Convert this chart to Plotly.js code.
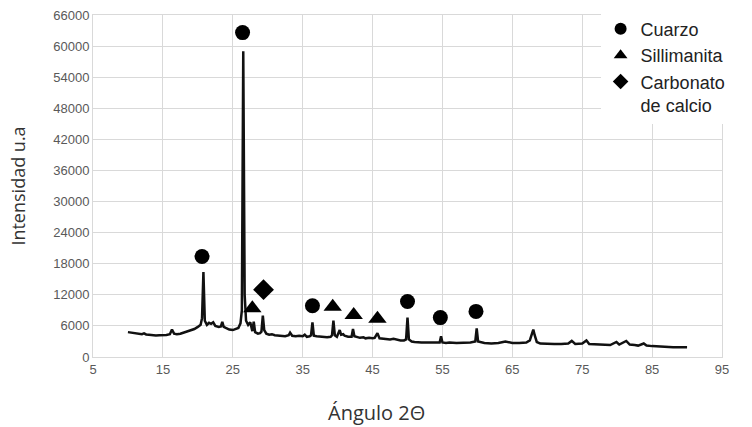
<!DOCTYPE html>
<html>
<head>
<meta charset="utf-8">
<script src="https://cdn.plot.ly/plotly-3.0.1.min.js"></script>
<style>html,body{margin:0;padding:0;background:#fff;}#chart{width:752px;height:427px;}</style>
</head>
<body>
<div id="chart"></div>
<script>
// Diffractogram (angle 2θ vs intensity)
const angle = [10.0,10.5,11.0,11.5,12.0,12.3,12.6,13.0,13.5,14.0,14.5,15.0,15.5,16.0,16.3,16.6,17.0,17.5,18.0,18.5,19.0,19.5,20.0,20.4,20.6,20.8,21.0,21.3,21.6,21.9,22.2,22.5,23.0,23.3,23.5,23.7,24.0,24.5,25.0,25.4,25.8,26.1,26.3,26.5,26.7,26.9,27.2,27.5,27.8,28.0,28.2,28.6,28.9,29.1,29.3,29.5,29.8,30.2,30.6,31.0,31.5,32.0,32.5,33.0,33.2,33.5,34.0,34.5,35.0,35.3,35.6,36.0,36.2,36.4,36.6,37.0,37.5,38.0,38.5,39.0,39.2,39.4,39.6,39.9,40.1,40.3,40.5,40.8,41.0,41.5,42.0,42.2,42.4,42.8,43.2,43.7,44.0,44.5,45.0,45.3,45.7,46.0,46.5,47.0,47.5,48.0,48.5,49.0,49.5,49.8,50.0,50.2,50.6,51.0,52.0,53.0,54.0,54.6,54.8,55.0,55.5,56.0,57.0,58.0,59.0,59.7,59.9,60.1,60.5,61.0,62.0,63.0,64.0,64.5,65.0,66.0,67.0,67.5,67.8,68.0,68.2,68.5,69.0,70.0,71.0,72.0,73.0,73.5,74.0,75.0,75.6,76.0,77.0,78.0,79.0,79.9,80.3,81.3,81.8,82.5,83.0,83.8,84.2,85.0,86.0,87.0,88.0,89.0,90.0];
const intensity = [4800,4700,4600,4500,4400,4550,4350,4300,4200,4150,4200,4200,4250,4400,5300,4500,4400,4500,4700,4900,5100,5400,5800,6200,7500,16400,7000,6200,6600,6400,6700,6000,5800,5900,6800,5800,5600,5300,5200,5400,5600,6500,9000,59000,12000,7000,6200,6700,5000,6800,4800,4500,4600,4900,8000,5200,4500,4300,4400,4200,4100,4000,4000,4200,4700,4100,4000,4100,4000,4300,3900,4000,4200,6700,4100,4000,3900,3800,3800,3900,4200,7000,4200,3900,4700,5200,4300,4400,4100,3900,3900,5400,4000,3800,3700,3800,3600,3700,3600,3700,4600,3600,3500,3500,3400,3500,3300,3200,3200,3400,7600,3400,3000,2900,2800,2800,2700,2800,4000,2800,2700,2800,2700,2700,2800,3000,5500,3000,2800,2700,2600,2700,3000,2800,2700,2700,2800,3200,4500,5300,4200,2900,2600,2500,2500,2500,2600,3100,2500,2600,3200,2500,2400,2400,2300,2900,2400,3100,2400,2300,2200,2600,2200,2100,2000,2000,1900,1900,1900];

// Phase markers
const quartzX = [20.6, 26.4, 36.4, 50.0, 54.7, 59.8];
const quartzY = [19400, 62600, 9900, 10700, 7600, 8800];
const sillX = [27.8, 39.3, 42.3, 45.7];
const sillY = [9400, 9700, 8100, 7400];
const calcX = [29.4];
const calcY = [13000];

const names = ["Cuarzo", "Sillimanita", "Carbonato<br>de calcio"];
const xTicks = [5,15,25,35,45,55,65,75,85,95];
const yTicks = [0,6000,12000,18000,24000,30000,36000,42000,48000,54000,60000,66000];
const xTitle = 'Ángulo 2Θ';
const yTitle = 'Intensidad u.a';

const traces = [
  {x: angle, y: intensity, type: 'scatter', mode: 'lines', line: {color: '#111', width: 2.5}, showlegend: false, hoverinfo: 'skip'},
  {x: quartzX, y: quartzY, type: 'scatter', mode: 'markers', name: names[0], marker: {symbol: 'circle', size: 15, color: '#000'}},
  {x: sillX, y: sillY, type: 'scatter', mode: 'markers', name: names[1], marker: {symbol: 'triangle-up', size: 16, color: '#000'}},
  {x: calcX, y: calcY, type: 'scatter', mode: 'markers', name: names[2], marker: {symbol: 'diamond', size: 16, color: '#000'}}
];

const layout = {
  width: 752, height: 427,
  margin: {l: 93, r: 30, t: 14, b: 70},
  paper_bgcolor: '#fff', plot_bgcolor: '#fff',
  font: {family: 'Liberation Sans, Arial, sans-serif', color: '#595959'},
  xaxis: {
    range: [5, 95], tickvals: xTicks, ticktext: xTicks.map(String),
    showgrid: true, gridcolor: '#d9d9d9', gridwidth: 1, zeroline: false,
    showline: true, mirror: true, linecolor: '#d9d9d9', linewidth: 1,
    ticks: '', tickfont: {size: 13, color: '#595959'}
  },
  yaxis: {
    range: [0, 66000], tickvals: yTicks, ticktext: yTicks.map(String),
    showgrid: true, gridcolor: '#d9d9d9', gridwidth: 1, zeroline: false,
    showline: true, mirror: true, linecolor: '#d9d9d9', linewidth: 1,
    ticks: '', tickfont: {size: 13, color: '#595959'},
    title: {text: yTitle, font: {size: 18, color: '#333', family: 'Open Sans, Liberation Sans, sans-serif'}, standoff: 22}
  },
  annotations: [
    {text: xTitle, xref: 'paper', yref: 'paper', x: 0.4515, y: -0.163, xanchor: 'center', yanchor: 'middle',
     showarrow: false, font: {size: 20, color: '#333', family: 'Open Sans, Liberation Sans, sans-serif'}}
  ],
  legend: {
    x: 0.807, xanchor: 'left', y: 1.01, yanchor: 'top',
    bgcolor: '#fff', borderwidth: 0, valign: 'top',
    font: {size: 18, color: '#222', family: 'Liberation Sans, Arial, sans-serif'},
    itemsizing: 'constant', tracegroupgap: 0
  },
  showlegend: true
};

Plotly.newPlot('chart', traces, layout, {staticPlot: true, displayModeBar: false});
</script>
</body>
</html>
